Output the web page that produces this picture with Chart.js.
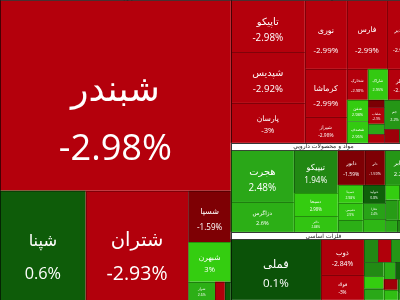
<!DOCTYPE html>
<html>
<head>
<meta charset="utf-8">
<script src="https://cdn.jsdelivr.net/npm/chart.js@4/dist/chart.umd.min.js"></script>
<style>
  html, body { margin: 0; padding: 0; background: #fff; }
  #wrap { width: 400px; height: 300px; }
</style>
</head>
<body>
<div id="wrap"><canvas id="mapaBolsa" width="400" height="300"></canvas></div>
<script>
// Nombres de los grupos (sectores)
const groupNames = ['فرآورده های نفتی', 'محصولات شیمیایی', 'مواد و محصولات دارويي', 'فلزات اساسی'];

// Peso (valor de mercado) y cambio diario por simbolo
const petroSymbols = ['شبندر', 'شپنا', 'شتران', 'شسپا', 'شبهرن', 'شراز', 'شنفت', 'شاوان'];
const petroValues  = [4400, 937, 1123, 218, 168, 49, 18, 11];
const petroChanges = [-2.98, 0.6, -2.93, -1.59, 3, 2.6, -2.9, 0.5];

const chemSymbols = ['تاپیکو', 'شپدیس', 'پارسان', 'نوری', 'فارس', 'شغدیر', 'کرماشا', 'شیراز', 'شخارک', 'شاراک', 'شکلر',
                     'شفن', 'شصدف', 'شکام', 'شلعاب', 'شگویا', 'شسینا', 'جم', 'زاگرس', 'شپترو', 'مارون'];
const chemValues  = [385, 377, 296, 290, 276, 200, 202, 109, 65, 62, 87, 46, 46, 12, 27, 17, 14, 59, 34, 20, 23];
const chemChanges = [-2.98, -2.92, -3, -2.99, -2.99, -2.99, -2.99, -2.98, -2.98, 2.95, -2.97,
                     2.98, 2.96, -1.5, -2.9, 2.5, -2.9, 2.2, 2.9, -2.4, 1.8];

const pharmaSymbols = ['هجرت', 'دزاگرس', 'تیپیکو', 'دسبحا', 'دالبر', 'دابور', 'دلر', 'دجابر', 'دسینا', 'دشیمی', 'دکوثر', 'دتولید',
                       'دفارا', 'داسوه', 'دعبید', 'دکیمی', 'درازک', 'دپارس', 'دتماد', 'دلقما', 'دزهراوی', 'دیران', 'دامین'];
const pharmaValues  = [328, 189, 189, 101, 70, 95, 70, 109, 45, 43, 30, 41, 36, 29, 20, 18, 7, 25, 22, 15, 14, 12, 11];
const pharmaChanges = [2.48, 2.6, 1.94, 2.98, 2.88, -1.59, -1.59, 2.2, 2.98, 2.9, 2.6, 0.8,
                       2.4, 2.7, 3, 2.6, -1.4, 2.3, 2.9, 0.7, 2.5, 2, 2.1];

const metalSymbols = ['فملی', 'ذوب', 'فولاد', 'فخوز', 'کاوه', 'فسپا', 'فاسمین', 'فنورد', 'فجر', 'فلامی', 'فزر', 'فسرب',
                      'فروی', 'فباهنر', 'فنوال', 'فالوم', 'فگستر', 'فجام'];
const metalValues  = [549, 155, 107, 33, 30, 32, 26, 28, 24, 22, 20, 18, 17, 15, 14, 13, 11, 14];
const metalChanges = [0.1, -2.84, -3, 1.98, -2.9, 2.2, 0.9, 1.99, 3, 2.5, 2.6, 1, 2.3, -2.5, 2.8, 2, 0.6, 2.4];

// Geometria del mapa (unidades de escala); el mapa completo es algo mas ancho que la ventana
const MAP_WIDTH = 416;
const MAP_BOTTOM = 300;
const TITLE_H = 7;
const MAP_TOP = -TITLE_H;   // los titulos de los dos primeros grupos quedan fuera de la vista
const AREA_SCALE = 10;      // unidades^2 por unidad de valor

const groups = [
  { symbols: petroSymbols, values: petroValues, changes: petroChanges },
  { symbols: chemSymbols, values: chemValues, changes: chemChanges },
  { symbols: pharmaSymbols, values: pharmaValues, changes: pharmaChanges },
  { symbols: metalSymbols, values: metalValues, changes: metalChanges }
].map((g, i) => ({
  name: groupNames[i],
  total: g.values.reduce((a, b) => a + b, 0),
  cells: g.symbols.map((s, j) => ({ symbol: s, value: g.values[j], change: g.changes[j] }))
}));

// Algoritmo squarify (como d3, razon aurea)
function squarify(nodes, x0, y0, x1, y1) {
  const ratio = (1 + Math.sqrt(5)) / 2;
  let value = nodes.reduce((a, n) => a + n.value, 0);
  let i0 = 0, i1 = 0;
  const n = nodes.length;
  while (i0 < n) {
    const dx = x1 - x0, dy = y1 - y0;
    let sumValue = nodes[i1++].value;
    let minValue = sumValue, maxValue = sumValue;
    const alpha = Math.max(dy / dx, dx / dy) / (value * ratio);
    let beta = sumValue * sumValue * alpha;
    let minRatio = Math.max(maxValue / beta, beta / minValue);
    for (; i1 < n; ++i1) {
      const nv = nodes[i1].value;
      sumValue += nv;
      if (nv < minValue) minValue = nv;
      if (nv > maxValue) maxValue = nv;
      beta = sumValue * sumValue * alpha;
      const newRatio = Math.max(maxValue / beta, beta / minValue);
      if (newRatio > minRatio) { sumValue -= nv; break; }
      minRatio = newRatio;
    }
    const row = nodes.slice(i0, i1);
    if (dx < dy) {
      const yy = y0 + dy * sumValue / value;
      let xx = x0;
      row.forEach(c => { const w = dx * c.value / sumValue; c.rect = [xx, y0, xx + w, yy]; xx += w; });
      y0 = yy;
    } else {
      const xx = x0 + dx * sumValue / value;
      let yy = y0;
      row.forEach(c => { const h = dy * c.value / sumValue; c.rect = [x0, yy, xx, yy + h]; yy += h; });
      x0 = xx;
    }
    value -= sumValue;
    i0 = i1;
  }
}

// Primer grupo a la izquierda en toda la altura, el resto apilado a la derecha
const leftW = groups[0].total * AREA_SCALE / (MAP_BOTTOM - MAP_TOP - TITLE_H);
groups[0].rect = [0, MAP_TOP, leftW, MAP_BOTTOM];
let yCursor = MAP_TOP;
const rightW = MAP_WIDTH - leftW;
groups.slice(1).forEach(g => {
  const h = g.total * AREA_SCALE / rightW + TITLE_H;
  g.rect = [leftW, yCursor, MAP_WIDTH, yCursor + h];
  yCursor += h;
});
groups.forEach(g => {
  const [x0, y0, x1, y1] = g.rect;
  squarify(g.cells, x0, y0 + TITLE_H, x1, y1);
});

// Escala de color segun el cambio porcentual
const colorStops = [
  [-3, [181, 0, 12]], [-1.6, [126, 0, 4]], [-0.01, [80, 0, 0]],
  [0, [10, 80, 8]], [1, [16, 100, 10]], [2, [34, 138, 20]], [2.5, [42, 168, 24]], [3, [52, 205, 16]]
];
function colorFor(p) {
  if (p <= colorStops[0][0]) return 'rgb(' + colorStops[0][1].join(',') + ')';
  for (let i = 1; i < colorStops.length; i++) {
    const [pa, ca] = colorStops[i - 1], [pb, cb] = colorStops[i];
    if (p <= pb) {
      const t = (p - pa) / (pb - pa);
      return 'rgb(' + ca.map((v, k) => Math.round(v + (cb[k] - v) * t)).join(',') + ')';
    }
  }
  return 'rgb(' + colorStops[colorStops.length - 1][1].join(',') + ')';
}

const treemapPlugin = {
  id: 'treemapCells',
  afterDatasetsDraw(chart) {
    const { ctx, chartArea, scales: { x, y } } = chart;
    const px = r => {
      const a = x.getPixelForValue(r[0]), b = x.getPixelForValue(r[2]);
      const c = y.getPixelForValue(r[1]), d = y.getPixelForValue(r[3]);
      return [Math.min(a, b), Math.min(c, d), Math.abs(b - a), Math.abs(d - c)];
    };
    ctx.save();
    ctx.beginPath();
    ctx.rect(chartArea.left, chartArea.top, chartArea.right - chartArea.left, chartArea.bottom - chartArea.top);
    ctx.clip();
    ctx.textAlign = 'center';
    ctx.textBaseline = 'middle';

    groups.forEach(g => {
      g.cells.forEach(c => {
        const [l, t, w, h] = px(c.rect);
        ctx.fillStyle = colorFor(c.change);
        ctx.fillRect(l, t, w, h);
        ctx.strokeStyle = 'rgba(0,0,0,0.28)';
        ctx.lineWidth = 1;
        ctx.strokeRect(Math.round(l) + 0.5, Math.round(t) + 0.5, Math.round(w), Math.round(h));

        let fs = 0.19 * Math.min(w, h);
        if (fs < 3) return;
        const label = c.change + '%';
        ctx.font = fs + 'px "Open Sans", "DejaVu Sans", sans-serif';
        const tw = Math.max(ctx.measureText(label).width, ctx.measureText(c.symbol).width);
        if (tw > w * 0.85) fs = fs * w * 0.85 / tw;
        const cx = l + w / 2;
        const nameY = t + h / 2 - Math.min(4, 0.1 * h);
        const pctY = nameY + 0.27 * h + 0.2 * fs;
        ctx.fillStyle = '#ffffff';
        ctx.font = fs + 'px "DejaVu Sans", sans-serif';
        ctx.fillText(c.symbol, cx, nameY);
        ctx.font = fs + 'px "Open Sans", "DejaVu Sans", sans-serif';
        ctx.fillText(label, cx, pctY);
      });

      // barra de titulo del grupo
      const [l, t, w] = px(g.rect);
      const [, , , th] = px([0, 0, 0, TITLE_H]);
      ctx.fillStyle = '#ffffff';
      ctx.fillRect(l, t, w, th);
      ctx.strokeStyle = 'rgba(60,60,60,0.8)';
      ctx.lineWidth = 1;
      ctx.strokeRect(Math.round(l) + 0.5, Math.round(t) + 0.5, Math.round(w), Math.round(th));
      ctx.fillStyle = '#222222';
      ctx.font = '6px "DejaVu Sans", sans-serif';
      ctx.fillText(g.name, l + w / 2, t + th / 2 + 0.5);

      const [gl, gt, gw, gh] = px(g.rect);
      ctx.strokeStyle = 'rgba(0,0,0,0.45)';
      ctx.strokeRect(Math.round(gl) + 0.5, Math.round(gt) + 0.5, Math.round(gw), Math.round(gh));
    });
    ctx.restore();
  }
};

new Chart(document.getElementById('mapaBolsa'), {
  type: 'scatter',
  data: { datasets: [{ data: [], pointRadius: 0 }] },
  options: {
    responsive: false,
    devicePixelRatio: 1,
    animation: false,
    layout: { padding: 0 },
    scales: {
      x: { type: 'linear', min: 0, max: 400, display: false },
      y: { type: 'linear', min: 0, max: 300, reverse: true, display: false }
    },
    plugins: { legend: { display: false }, tooltip: { enabled: false } }
  },
  plugins: [treemapPlugin]
});
</script>
</body>
</html>
